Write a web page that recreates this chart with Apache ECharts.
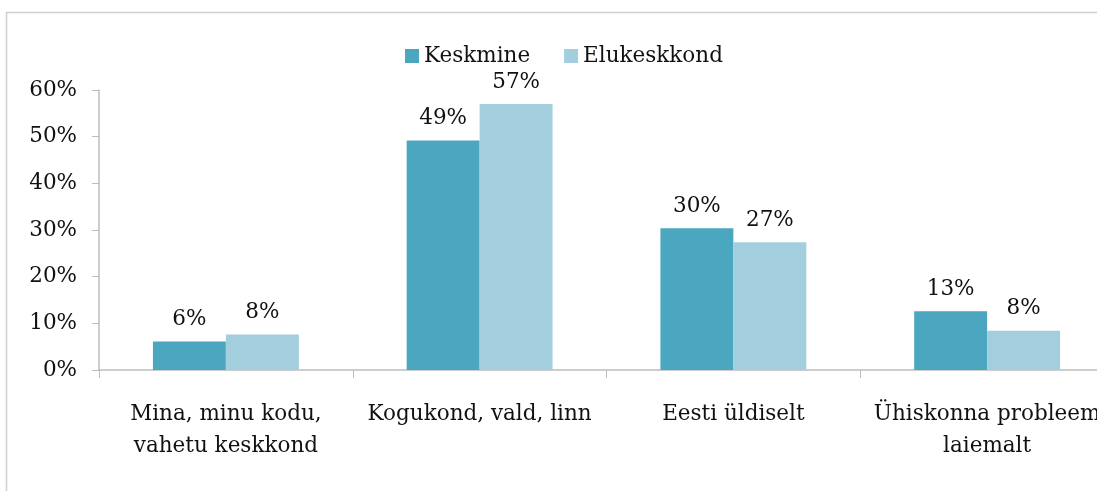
<!DOCTYPE html>
<html>
<head>
<meta charset="utf-8">
<script src="https://cdn.jsdelivr.net/npm/echarts@6/dist/echarts.min.js"></script>
<style>
  html, body { margin: 0; padding: 0; background: #fff; }
  #main { width: 1097px; height: 491px; }
</style>
</head>
<body>
<div id="main"></div>
<script>
var categories = ['Mina, minu kodu,\nvahetu keskkond', 'Kogukond, vald, linn', 'Eesti üldiselt', 'Ühiskonna probleem\nlaiemalt'];
var keskmine = [0.061, 0.492, 0.304, 0.126];
var elukeskkond = [0.076, 0.570, 0.274, 0.084];
var seriesNames = ['Keskmine', 'Elukeskkond'];
var seriesColors = ['#4BA7BF', '#A3CEDE'];

var fontFam = '"DejaVu Serif", "Liberation Serif", serif';
var chart = echarts.init(document.getElementById('main'));

function pct(p) { return Math.round(p.value * 100) + '%'; }

chart.setOption({
  animation: false,
  textStyle: { fontFamily: fontFam },
  graphic: [{
    type: 'rect',
    shape: { x: 6.5, y: 12.5, width: 1200, height: 600 },
    style: { fill: 'none', stroke: '#d0d0d0', lineWidth: 1.5 },
    z: -1
  }],
  legend: {
    data: seriesNames,
    top: 40,
    left: 400,
    itemWidth: 14,
    itemHeight: 14,
    itemGap: 34,
    icon: 'rect',
    textStyle: { fontFamily: fontFam, fontSize: 21.5, color: '#111' }
  },
  grid: { left: 99, top: 90, width: 1015, height: 280, outerBoundsMode: 'none', containLabel: false },
  xAxis: {
    type: 'category',
    data: categories,
    axisLine: { lineStyle: { color: '#bdbdbd', width: 1.5 } },
    axisTick: { show: true, length: 8, lineStyle: { color: '#bdbdbd' } },
    axisLabel: { color: '#111', fontSize: 21.5, fontFamily: fontFam, margin: 28, lineHeight: 32, interval: 0 }
  },
  yAxis: {
    type: 'value',
    min: 0,
    max: 0.6,
    interval: 0.1,
    splitLine: { show: false },
    axisLine: { show: true, lineStyle: { color: '#bdbdbd', width: 1.5 } },
    axisTick: { show: true, length: 7, lineStyle: { color: '#bdbdbd' } },
    axisLabel: {
      color: '#111', fontSize: 21.5, fontFamily: fontFam, margin: 22,
      formatter: function (v) { return Math.round(v * 100) + '%'; }
    }
  },
  series: [
    {
      name: seriesNames[0], type: 'bar', data: keskmine,
      barGap: '0%', barCategoryGap: '42.5%',
      itemStyle: { color: seriesColors[0] },
      label: { show: true, position: 'top', distance: 11, formatter: pct, color: '#111', fontSize: 21.5, fontFamily: fontFam }
    },
    {
      name: seriesNames[1], type: 'bar', data: elukeskkond,
      barGap: '0%', barCategoryGap: '42.5%',
      itemStyle: { color: seriesColors[1] },
      label: { show: true, position: 'top', distance: 11, formatter: pct, color: '#111', fontSize: 21.5, fontFamily: fontFam }
    }
  ]
});
</script>
</body>
</html>
